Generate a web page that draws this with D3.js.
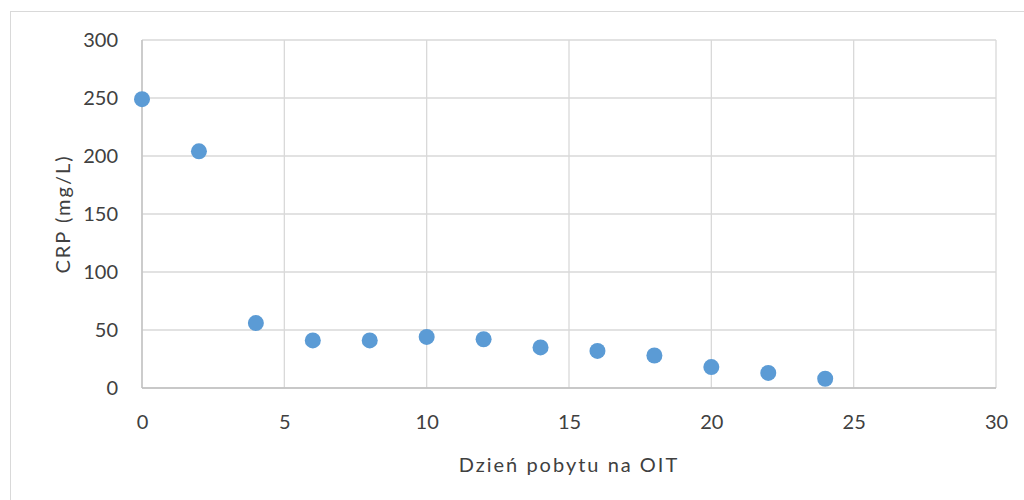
<!DOCTYPE html>
<html><head><meta charset="utf-8">
<script src="https://cdn.jsdelivr.net/npm/d3@7"></script>
<style>body{margin:0;background:#fff}svg{display:block}</style>
</head><body>
<script>
const days = [0, 2, 4, 6, 8, 10, 12, 14, 16, 18, 20, 22, 24];
const crp = [249, 204, 56, 41, 41, 44, 42, 35, 32, 28, 18, 13, 8];
const xTicks = [0, 5, 10, 15, 20, 25, 30];
const yTicks = [0, 50, 100, 150, 200, 250, 300];
const xTitle = "Dzień pobytu na OIT";
const yTitle = "CRP (mg/L)";

const W = 1024, H = 500;
const m = {l: 142, r: 1024 - 996, t: 40, b: 500 - 388};
const svg = d3.select("body").append("svg").attr("width", W).attr("height", H);
const font = "Lato, 'Open Sans', sans-serif";

svg.append("rect").attr("x", 10.5).attr("y", 11.5).attr("width", 1030).attr("height", 500)
  .attr("fill", "#fff").attr("stroke", "#d9d9d9").attr("stroke-width", 1);

const x = d3.scaleLinear().domain([0, 30]).range([m.l, W - m.r]);
const y = d3.scaleLinear().domain([0, 300]).range([H - m.b, m.t]);

const g = svg.append("g");
g.selectAll("line.h").data(yTicks).join("line")
  .attr("x1", x(0)).attr("x2", x(30)).attr("y1", d => y(d)).attr("y2", d => y(d))
  .attr("stroke", "#d9d9d9").attr("stroke-width", 1.3);
g.selectAll("line.v").data(xTicks).join("line")
  .attr("y1", y(0)).attr("y2", y(300)).attr("x1", d => x(d)).attr("x2", d => x(d))
  .attr("stroke", "#d9d9d9").attr("stroke-width", 1.3);
g.append("line").attr("x1", x(0)).attr("x2", x(30)).attr("y1", y(0)).attr("y2", y(0))
  .attr("stroke", "#bfbfbf").attr("stroke-width", 1.3);
g.append("line").attr("x1", x(0)).attr("x2", x(0)).attr("y1", y(0)).attr("y2", y(300))
  .attr("stroke", "#bfbfbf").attr("stroke-width", 1.3);

const xa = svg.append("g").attr("transform", `translate(0,${y(0)})`)
  .call(d3.axisBottom(x).tickValues(xTicks).tickSize(0).tickPadding(26));
const ya = svg.append("g").attr("transform", `translate(${x(0)},0)`)
  .call(d3.axisLeft(y).tickValues(yTicks).tickSize(0).tickPadding(24));
[xa, ya].forEach(a => {
  a.select(".domain").remove();
  a.selectAll("text").attr("font-family", font).attr("font-size", 20).attr("fill", "#404040");
});
xa.selectAll("text").attr("dy", "0.32em").attr("y", 35);

svg.selectAll("circle").data(days).join("circle")
  .attr("cx", d => x(d)).attr("cy", (d, i) => y(crp[i])).attr("r", 8)
  .attr("fill", "#5b9bd5");

svg.append("text").attr("x", (x(0) + x(30)) / 2).attr("y", 465).attr("dy", "0.35em")
  .attr("text-anchor", "middle").attr("font-family", font).attr("font-size", 20)
  .attr("letter-spacing", 2).attr("fill", "#404040").text(xTitle);
svg.append("text").attr("transform", `translate(63,${(y(0) + y(300)) / 2}) rotate(-90)`)
  .attr("dy", "0.35em").attr("text-anchor", "middle").attr("font-family", font)
  .attr("font-size", 20).attr("letter-spacing", 2).attr("fill", "#404040").text(yTitle);
</script>
</body></html>
